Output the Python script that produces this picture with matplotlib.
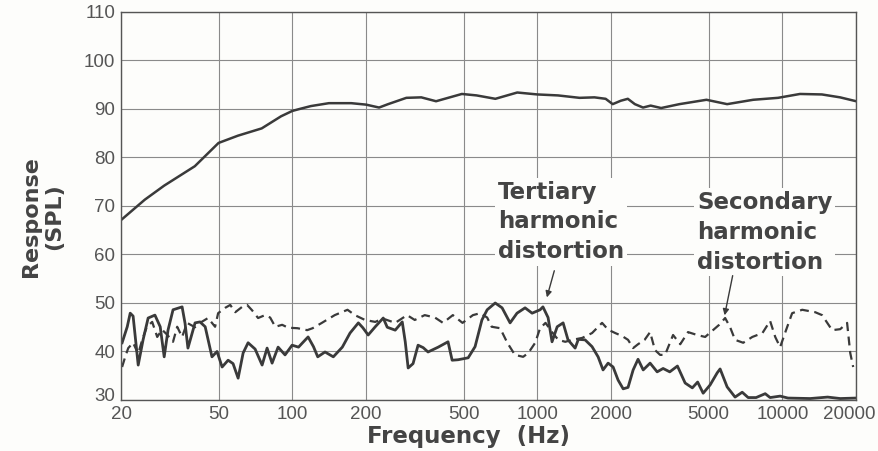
import matplotlib
matplotlib.use("Agg")
import matplotlib.pyplot as plt
from matplotlib.transforms import ScaledTranslation

plt.rcParams['font.family'] = ['Liberation Sans', 'DejaVu Sans']

#--------------Data-------------------------------------------------------
# main response curve (Hz, dB SPL)
resp_f = [20, 25, 30, 40, 50, 60, 75, 90, 100, 107, 119, 141, 174, 200, 226, 246,
          292, 336, 386, 492, 565, 674, 828, 1000, 1214, 1487, 1710, 1900, 2030,
          2190, 2340, 2500, 2700, 2900, 3200, 3800, 4900, 5950, 7600, 9600, 11800,
          14500, 17200, 20000]
resp_db = [67.1, 71.3, 74.2, 78.2, 83.0, 84.5, 86.0, 88.5, 89.6, 90.0, 90.6, 91.2,
           91.2, 90.9, 90.3, 91.0, 92.3, 92.4, 91.6, 93.1, 92.8, 92.1, 93.4, 93.0,
           92.8, 92.3, 92.4, 92.1, 91.0, 91.7, 92.1, 91.0, 90.3, 90.7, 90.2, 91.0,
           91.9, 91.0, 91.9, 92.3, 93.1, 93.0, 92.4, 91.6]

# tertiary harmonic distortion (solid)
tert_f = [20.2, 21.2, 21.8, 22.4, 23.5, 24.6, 25.8, 27.5, 28.9, 30.0, 31.1, 32.6,
          35.5, 36.5, 37.5, 40.1, 42.0, 44.1, 47.0, 49.3, 51.7, 54.7, 57.3, 60.1,
          63, 66, 70.5, 75.3, 78.9, 82.7, 87.5, 93.4, 99.8, 106, 113, 116, 122, 127,
          136, 147, 160, 172, 186, 194, 204, 218, 235, 244, 263, 281, 289, 297, 311,
          326, 342, 358, 394, 432, 449, 475, 522, 557, 594, 624, 673, 718, 774, 826,
          891, 952, 1026, 1054, 1106, 1148, 1205, 1274, 1334, 1426, 1470, 1566, 1672,
          1770, 1854, 1944, 2038, 2136, 2240, 2345, 2460, 2576, 2704, 2885, 3083,
          3260, 3470, 3730, 4010, 4290, 4510, 4750, 5070, 5420, 5570, 5950, 6410,
          6855, 7250, 7810, 8510, 8910, 9790, 10540, 12980, 15300, 17220, 20000]
tert_db = [41.8, 45.1, 47.9, 47.3, 37.2, 42.4, 46.9, 47.5, 45.1, 38.9, 44.4, 48.6,
           49.2, 45.8, 40.7, 45.9, 46.1, 45.1, 38.9, 40.0, 36.8, 38.2, 37.5, 34.5,
           39.7, 41.8, 40.5, 37.2, 40.7, 37.6, 40.9, 39.3, 41.3, 40.9, 42.4, 43.0,
           41.0, 38.9, 39.9, 38.9, 40.9, 43.8, 45.9, 44.9, 43.4, 45.1, 46.9, 45.0,
           44.4, 46.1, 42.0, 36.6, 37.5, 41.3, 40.8, 39.9, 40.9, 42.0, 38.2, 38.3,
           38.7, 41.0, 46.5, 48.6, 50.0, 49.0, 45.9, 47.9, 49.0, 47.9, 48.6, 49.2,
           47.0, 42.0, 45.1, 45.9, 42.4, 40.7, 42.5, 42.4, 41.0, 38.9, 36.2, 37.6,
           36.8, 34.1, 32.3, 32.6, 36.2, 38.4, 36.2, 37.6, 35.8, 36.5, 35.8, 37.0,
           33.5, 32.5, 33.7, 31.4, 33.1, 35.6, 36.4, 32.7, 30.6, 31.6, 30.5, 30.5,
           31.3, 30.5, 30.8, 30.4, 30.3, 30.6, 30.3, 30.4]

# secondary harmonic distortion (dashed)
sec_f = [20.2, 20.8, 21.4, 22.4, 23.5, 24.4, 25.5, 26.8, 28.1, 29.4, 30.8, 32.6,
         33.9, 35.5, 37.2, 40.1, 42.0, 45.3, 48.4, 49.8, 53.2, 55.8, 58.5, 62.4,
         65.4, 68.5, 72.5, 77.4, 81.2, 85.2, 90.9, 96.2, 105, 115, 121, 132, 149,
         168, 180, 198, 218, 234, 263, 294, 316, 347, 382, 412, 452, 495, 546, 585,
         624, 651, 705, 754, 810, 875, 919, 980, 1026, 1080, 1148, 1217, 1300, 1388,
         1524, 1672, 1837, 1944, 2080, 2216, 2345, 2460, 2576, 2740, 2885, 3020,
         3170, 3320, 3580, 3830, 4120, 4490, 4840, 5210, 5520, 5840, 6120, 6410,
         6920, 7540, 8290, 8910, 9350, 9790, 10350, 10960, 12050, 13610, 14520,
         15960, 17220, 18370, 18920, 19450]
sec_db = [36.8, 38.9, 40.7, 41.8, 39.5, 42.4, 45.1, 46.1, 43.0, 44.5, 43.5, 42.0,
          45.1, 43.0, 45.9, 45.0, 45.9, 46.9, 45.1, 47.9, 49.0, 49.6, 48.1, 49.2,
          49.6, 48.5, 46.9, 47.5, 47.0, 45.1, 45.5, 44.9, 44.8, 44.4, 44.8, 45.9,
          47.5, 48.6, 47.5, 46.5, 46.1, 46.8, 45.9, 47.5, 46.5, 47.5, 47.0, 45.9,
          47.5, 45.9, 47.5, 47.9, 47.0, 45.1, 44.8, 41.8, 39.3, 38.9, 39.7, 41.8,
          44.8, 45.9, 44.0, 42.4, 42.0, 42.4, 42.8, 43.8, 45.9, 44.5, 43.8, 43.2,
          42.4, 40.7, 41.5, 42.4, 44.0, 40.3, 39.3, 39.3, 43.4, 41.5, 44.0, 43.4,
          43.0, 44.4, 45.5, 46.9, 45.0, 42.4, 41.8, 43.0, 43.8, 46.3, 43.0, 40.9,
          44.4, 47.9, 48.6, 48.1, 47.5, 44.4, 44.6, 45.9, 39.7, 36.8]

x_ticks = [20, 50, 100, 200, 500, 1000, 2000, 5000, 10000, 20000]
y_ticks = [30, 40, 50, 60, 70, 80, 90, 100, 110]

#--------------Plot-------------------------------------------------------
ink = '#3a3a3a'
paper = '#fdfdfb'
fig = plt.figure(figsize=(8.79, 4.51), dpi=100)
fig.patch.set_facecolor(paper)
ax = fig.add_axes([0.1377, 0.1131, 0.8363, 0.8603])
ax.set_facecolor(paper)

ax.plot(resp_f, resp_db, color=ink, lw=1.8, solid_capstyle='round')
ax.plot(tert_f, tert_db, color=ink, lw=2.0)
ax.plot(sec_f, sec_db, color=ink, lw=1.6, linestyle=(0, (4, 2.5)))

ax.set_xscale('log')
ax.set_xlim(20, 20000)
ax.set_ylim(30, 110)
ax.set_xticks(x_ticks)
ax.set_xticklabels([str(t) for t in x_ticks])
ax.set_yticks(y_ticks)
ax.minorticks_off()
ax.tick_params(length=0, labelsize=13.5, labelcolor='#555555', pad=4)
ax.tick_params(axis='x', pad=4)
ax.grid(True, color='#8a8a8a', lw=0.8)
ax.set_axisbelow(True)
for s in ax.spines.values():
    s.set_color('#555555')
    s.set_linewidth(1.0)

# nudge corner labels: last frequency label inward, the "30" label up a bit
last = ax.get_xticklabels()[-1]
last.set_transform(last.get_transform() + ScaledTranslation(-5/72, 0, fig.dpi_scale_trans))
low = ax.get_yticklabels()[0]
low.set_transform(low.get_transform() + ScaledTranslation(0, 4/72, fig.dpi_scale_trans))

bold = dict(family='DejaVu Sans', fontweight='bold', color='#444444')
ax.set_xlabel('Frequency  (Hz)', fontsize=16.5, **bold)
ax.xaxis.set_label_coords(0.472, -0.064)
fig.text(0.048, 0.52, 'Response\n(SPL)', rotation=90, fontsize=16,
         ha='center', va='center', linespacing=1.2, **bold)

box = dict(facecolor=paper, edgecolor='none', pad=2)
ax.text(691, 66.7, 'Tertiary\nharmonic\ndistortion', fontsize=16.5,
        ha='left', va='center', linespacing=1.38, bbox=box, **bold)
ax.text(4490, 64.6, 'Secondary\nharmonic\ndistortion', fontsize=16.5,
        ha='left', va='center', linespacing=1.38, bbox=box, **bold)

ax.annotate('', xy=(1086, 50.6), xytext=(1181, 57.2),
            arrowprops=dict(arrowstyle='-|>', color=ink, lw=1.0, mutation_scale=9))
ax.annotate('', xy=(5780, 46.9), xytext=(6300, 56.2),
            arrowprops=dict(arrowstyle='-|>', color=ink, lw=1.0, mutation_scale=9))

plt.savefig('out.png', dpi=100, facecolor=fig.get_facecolor())
